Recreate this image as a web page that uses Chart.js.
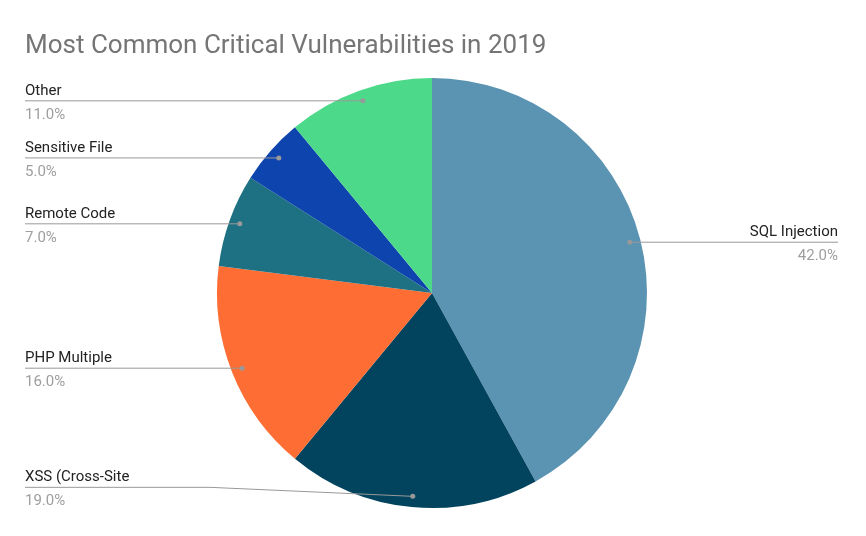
<!DOCTYPE html>
<html>
<head>
<meta charset="utf-8">
<script src="https://cdn.jsdelivr.net/npm/chart.js@4"></script>
<style>
  html, body { margin: 0; padding: 0; background: #fff; }
  #wrap { width: 866px; height: 536px; }
</style>
</head>
<body>
<div id="wrap"><canvas id="pie"></canvas></div>
<script>
const labels = ["SQL Injection", "XSS (Cross-Site", "PHP Multiple", "Remote Code", "Sensitive File", "Other"];
const values = [42, 19, 16, 7, 5, 11];
const colors = ["#5b93b2", "#02445e", "#fe6d33", "#1e7182", "#0e44ad", "#4cd98a"];

// leader lines + labels, the way the sheet chart draws them
const leaderLabels = {
    id: "leaderLabels",
    afterDraw(chart) {
        let ctx = chart.ctx;
        let meta = chart.getDatasetMeta(0);
        let total = values.reduce((a, b) => a + b, 0);
        ctx.save();
        ctx.font = "26px Roboto";
        ctx.fillStyle = "#757575";
        ctx.textBaseline = "alphabetic";
        ctx.fillText("Most Common Critical Vulnerabilities in 2019", 25, 53);

        meta.data.forEach((arc, i) => {
            let mid = (arc.startAngle + arc.endAngle) / 2;
            let r = arc.outerRadius * 0.95;
            let dx = arc.x + Math.cos(mid) * r;
            let dy = arc.y + Math.sin(mid) * r;
            let right = dx > arc.x + 50;
            let lineY = i === 1 ? dy - 9 : dy;
            let pct = (values[i] / total * 100).toFixed(1) + "%";

            ctx.strokeStyle = "#999";
            ctx.lineWidth = 1;
            ctx.beginPath();
            if (right) {
                ctx.moveTo(dx, dy);
                ctx.lineTo(838, lineY);
            } else {
                ctx.moveTo(25, lineY);
                if (i === 1) {
                    ctx.lineTo(210, lineY);
                }
                ctx.lineTo(dx, dy);
            }
            ctx.stroke();

            ctx.fillStyle = "#999";
            ctx.beginPath();
            ctx.arc(dx, dy, 2.5, 0, Math.PI * 2);
            ctx.fill();

            ctx.font = "15px Roboto";
            ctx.textAlign = right ? "right" : "left";
            let tx = right ? 838 : 25;
            ctx.fillStyle = "#222";
            ctx.fillText(labels[i], tx, lineY - 6);
            ctx.fillStyle = "#9e9e9e";
            ctx.fillText(pct, tx, lineY + 18);
        });
        ctx.restore();
    }
};

new Chart(document.getElementById("pie").getContext("2d"), {
    type: "pie",
    data: {
        labels: labels,
        datasets: [{
            data: values,
            backgroundColor: colors,
            borderWidth: 0
        }]
    },
    options: {
        responsive: true,
        maintainAspectRatio: false,
        animation: false,
        layout: { padding: { top: 78, bottom: 28, left: 217, right: 219 } },
        plugins: {
            legend: { display: false },
            tooltip: { enabled: false }
        }
    },
    plugins: [leaderLabels]
});
</script>
</body>
</html>
